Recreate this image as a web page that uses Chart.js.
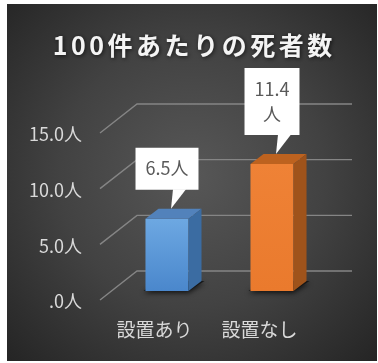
<!DOCTYPE html>
<html>
<head>
<meta charset="utf-8">
<style>
  html, body { margin: 0; padding: 0; background: #ffffff; }
  #c { display: block; }
</style>
<script src="https://cdn.jsdelivr.net/npm/chart.js@4.4.1/dist/chart.umd.min.js"></script>
</head>
<body>
<canvas id="c" width="378" height="363"></canvas>
<script>
// Deaths per 100 incidents, with and without the device installed
const titleText = '100件あたりの死者数';
const categories = ['設置あり', '設置なし'];
const deathsPer100 = [6.5, 11.4];
const unit = '人';
const tickValues = [0, 5, 10, 15];
const tickLabels = ['.0人', '5.0人', '10.0人', '15.0人'];

// Face colours for each bar: [front top, front bottom, top face, side face]
const barShades = [
  ['#6da8e2', '#4a87cc', '#5282bb', '#3b6ca2'],
  ['#ef8236', '#ea7a2d', '#bd621f', '#9f531b']
];

// Pseudo-3D geometry (pixels) relative to the plotting plane of the bars
const DEPTH = { dx: 13, dy: -10 };          // bar depth
const FRONT = { dx: -14.5, dy: 9 };         // front edge of the floor/grid
const BACK = { dx: 22.5, dy: -20, right: 27.5 }; // back wall

const FONT = '"Noto Sans CJK JP", "Noto Sans", sans-serif';

const backgroundPlugin = {
  id: 'panel',
  beforeDraw(chart) {
    const ctx = chart.ctx;
    ctx.save();
    ctx.fillStyle = '#ffffff';
    ctx.fillRect(0, 0, chart.width, chart.height);
    const g = ctx.createRadialGradient(192, 175, 0, 192, 175, 265);
    g.addColorStop(0, '#575757');
    g.addColorStop(0.5, '#424242');
    g.addColorStop(1, '#242424');
    ctx.fillStyle = g;
    ctx.fillRect(7, 4, 370, 357);

    // chart title
    ctx.font = 'bold 25px ' + FONT;
    ctx.letterSpacing = '3.5px';
    ctx.textAlign = 'center';
    ctx.textBaseline = 'middle';
    ctx.shadowColor = 'rgba(0,0,0,0.65)';
    ctx.shadowBlur = 4;
    ctx.shadowOffsetX = 1;
    ctx.shadowOffsetY = 1;
    ctx.fillStyle = '#f4f4f4';
    ctx.fillText(titleText, 192.5 + 1.75, 45);
    ctx.restore();
  }
};

const gridPlugin = {
  id: 'perspectiveGrid',
  beforeDatasetsDraw(chart) {
    const { ctx, chartArea: a, scales: { y } } = chart;
    ctx.save();
    ctx.strokeStyle = '#858585';
    ctx.lineWidth = 1.4;
    y.ticks.forEach(t => {
      const yb = y.getPixelForValue(t.value);
      ctx.beginPath();
      ctx.moveTo(a.left + FRONT.dx, yb + FRONT.dy);
      ctx.lineTo(a.left + BACK.dx, yb + BACK.dy);
      ctx.lineTo(a.right + BACK.right, yb + BACK.dy);
      ctx.stroke();
    });
    // soft floor shadow under each bar
    const meta = chart.getDatasetMeta(0);
    meta.data.forEach(el => {
      const l = el.x - el.width / 2, r = el.x + el.width / 2, b = el.base;
      ctx.save();
      ctx.shadowColor = 'rgba(0,0,0,0.8)';
      ctx.shadowBlur = 5;
      ctx.shadowOffsetY = 2;
      ctx.fillStyle = 'rgba(20,20,20,0.9)';
      ctx.beginPath();
      ctx.moveTo(l - 2, b);
      ctx.lineTo(r, b);
      ctx.lineTo(r + DEPTH.dx + 3, b + DEPTH.dy);
      ctx.lineTo(l + DEPTH.dx, b + DEPTH.dy);
      ctx.closePath();
      ctx.fill();
      ctx.restore();
    });
    ctx.restore();
  }
};

function wrapLabel(ctx, text, maxWidth) {
  if (ctx.measureText(text).width <= maxWidth) return [text];
  const m = text.match(/^([\d.]+)(.*)$/);
  return m ? [m[1], m[2]] : [text];
}

const facesAndLabelsPlugin = {
  id: 'facesAndLabels',
  afterDatasetsDraw(chart) {
    const ctx = chart.ctx;
    const meta = chart.getDatasetMeta(0);
    ctx.save();
    meta.data.forEach((el, i) => {
      const shades = barShades[i];
      const l = el.x - el.width / 2, r = el.x + el.width / 2;
      const t = el.y, b = el.base;
      // top face
      ctx.fillStyle = shades[2];
      ctx.beginPath();
      ctx.moveTo(l, t);
      ctx.lineTo(l + DEPTH.dx, t + DEPTH.dy);
      ctx.lineTo(r + DEPTH.dx, t + DEPTH.dy);
      ctx.lineTo(r, t);
      ctx.closePath();
      ctx.fill();
      // side face
      ctx.fillStyle = shades[3];
      ctx.beginPath();
      ctx.moveTo(r, t);
      ctx.lineTo(r + DEPTH.dx, t + DEPTH.dy);
      ctx.lineTo(r + DEPTH.dx, b + DEPTH.dy);
      ctx.lineTo(r, b);
      ctx.closePath();
      ctx.fill();
    });

    // value callouts
    ctx.font = '18px ' + FONT;
    meta.data.forEach((el, i) => {
      const text = deathsPer100[i].toFixed(1) + unit;
      const lines = wrapLabel(ctx, text, 48);
      const lineH = 25, padX = 10, padY = 8.5;
      const w = Math.max(...lines.map(s => ctx.measureText(s).width)) + padX * 2;
      const h = lines.length * lineH + padY * 2;
      const bx = el.x - w / 2;
      const by = el.y - 29 - h;
      ctx.fillStyle = '#ffffff';
      ctx.beginPath();
      ctx.rect(bx, by, w, h);
      ctx.fill();
      ctx.beginPath();
      ctx.moveTo(el.x + 6, by + h - 0.5);
      ctx.lineTo(el.x + 19, by + h - 0.5);
      ctx.lineTo(el.x + 4, el.y - 10);
      ctx.closePath();
      ctx.fill();
      ctx.fillStyle = '#595959';
      ctx.textAlign = 'center';
      ctx.textBaseline = 'middle';
      lines.forEach((s, k) => {
        ctx.fillText(s, el.x, by + padY + lineH * (k + 0.5));
      });
    });
    ctx.restore();
  }
};

new Chart(document.getElementById('c'), {
  type: 'bar',
  data: {
    labels: categories,
    datasets: [{
      data: deathsPer100,
      backgroundColor: (c) => {
        const chart = c.chart;
        const y = chart.scales && chart.scales.y;
        const shades = barShades[c.dataIndex] || barShades[0];
        if (!y || c.raw === undefined) return shades[0];
        const y0 = y.getPixelForValue(c.raw), y1 = y.getPixelForValue(0);
        if (!isFinite(y0) || !isFinite(y1) || y0 === y1) return shades[0];
        const g = chart.ctx.createLinearGradient(0, y0, 0, y1);
        g.addColorStop(0, shades[0]);
        g.addColorStop(1, shades[1]);
        return g;
      },
      borderWidth: 0,
      categoryPercentage: 1,
      barPercentage: 0.41
    }]
  },
  options: {
    responsive: false,
    animation: false,
    devicePixelRatio: 1,
    layout: { padding: { left: 14.5, right: 53.5, top: 124, bottom: 22 } },
    plugins: {
      legend: { display: false },
      title: { display: false },
      tooltip: { enabled: false }
    },
    scales: {
      y: {
        min: 0,
        max: 15,
        afterFit: s => { s.width = 100; },
        afterBuildTicks: s => { s.ticks = tickValues.map(v => ({ value: v })); },
        grid: { display: false, drawTicks: false },
        border: { display: false },
        ticks: {
          callback: (v, i) => tickLabels[i],
          color: '#d9d9d9',
          font: { family: FONT, size: 18 },
          padding: 32.5,
          labelOffset: 10.5
        }
      },
      x: {
        afterFit: s => { s.height = 50; },
        grid: { display: false, drawTicks: false },
        border: { display: false },
        ticks: {
          color: '#d9d9d9',
          font: { family: FONT, size: 19 },
          padding: 27,
          labelOffset: -12.5,
          maxRotation: 0
        }
      }
    }
  },
  plugins: [backgroundPlugin, gridPlugin, facesAndLabelsPlugin]
});
</script>
</body>
</html>
